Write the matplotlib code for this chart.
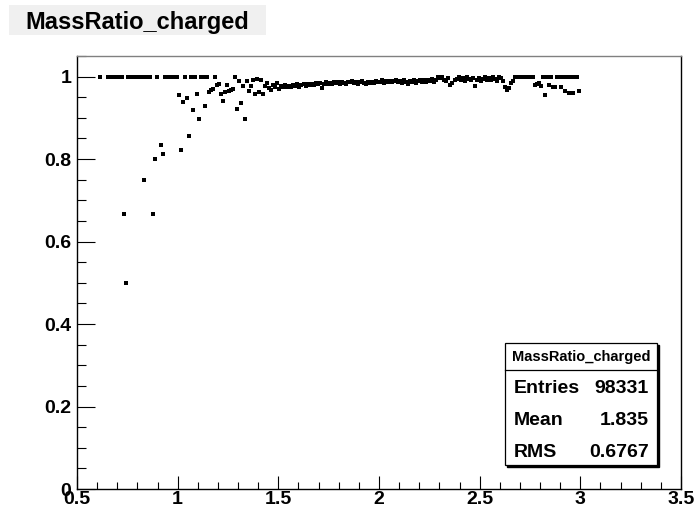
import numpy as np
import matplotlib
matplotlib.use("Agg")
import matplotlib.pyplot as plt
from matplotlib.patches import Rectangle
from matplotlib.lines import Line2D
from matplotlib.ticker import MultipleLocator, FuncFormatter

plt.rcParams['font.family'] = ['Liberation Sans', 'DejaVu Sans']
plt.rcParams['font.weight'] = 'bold'

# ---- data: profile bins of width 0.01, first bin centre 0.605 ----
bin_start = 0.605
bin_width = 0.01
nan = np.nan
ratio_low = [
    nan, 1, nan, nan, nan,                      # 0.605-0.645
    1, 1, 1, 1, 1, 1, 1, 1,                     # 0.655-0.725
    0.667, 0.5,                                 # 0.735-0.745
    1, 1, 1, 1, 1, 1, 1, 1,                     # 0.755-0.825
    0.75, 1, 1, 1, 0.667, 0.80, 1, nan,         # 0.835-0.905
    0.833, 0.812,                               # 0.915-0.925
    1, 1, 1, 1, 1, 1, 1,                        # 0.935-0.995
    0.955, 0.823, 0.938, 1, 0.947, 0.857, 1, 0.920, 1, 0.959,   # 1.005-1.095
    0.897, 1, 1, 0.929, 1, 0.963, 0.967, 0.971, 1, 0.980,       # 1.105-1.195
    0.982, 0.958, 0.940, 0.962, 0.980, 0.965, 0.968, 0.971, 1, 0.922,  # 1.205-1.295
    0.990, 0.936, 0.977, 0.897, 0.990, 0.966, 0.978, 0.991, 0.959, 0.994,  # 1.305-1.395
    0.963, 0.991, 0.958, 0.978, 0.985,          # 1.405-1.445
]
ratio_mid = [
    0.972, 0.968, 0.980, 0.975, 0.985, 0.970, 0.978, 0.974, 0.980, 0.976,  # 1.455-1.545
    0.978, 0.975, 0.980, 0.977, 0.982, 0.976, 0.980, 0.983, 0.978, 0.981,  # 1.555-1.645
    0.979, 0.983, 0.980, 0.984, 0.981, 0.985, 0.973, 0.982, 0.986, 0.983,  # 1.655-1.745
    0.985, 0.982, 0.987, 0.984, 0.986, 0.983, 0.988, 0.985, 0.982, 0.987,  # 1.755-1.845
    0.986, 0.989, 0.984, 0.987, 0.983, 0.986, 0.990, 0.985, 0.982, 0.987,  # 1.855-1.945
    0.985, 0.988, 0.984, 0.990, 0.986, 0.988, 0.991, 0.985, 0.989, 0.987,  # 1.955-2.045
    0.990, 0.986, 0.989, 0.992, 0.987, 0.990, 0.985, 0.991, 0.988, 0.983,  # 2.055-2.145
    0.989, 0.986, 0.991, 0.984, 0.990, 0.993, 0.987, 0.991, 0.988, 0.992,  # 2.155-2.245
    0.990, 0.994, 0.988, 0.992, 1.000, 0.996, 1.000, 0.993, 0.990, 0.997,  # 2.255-2.345
    0.980, 0.985, 0.992, 0.995, 1.000, 0.993, 0.996, 0.990, 0.998, 0.994,  # 2.355-2.445
    0.992, 0.996, 0.977, 0.993, 0.997, 0.990, 0.995, 1.000, 0.993, 0.996,  # 2.455-2.545
    0.992, 0.998, 0.994, 0.990, 1.000, 0.996, 0.990, 0.975, 0.968, 0.972,  # 2.555-2.645
    0.985, 0.990,                                                          # 2.655-2.665
]
ratio_high = [
    1, 1, 1, 1, 1, 1, 1, 1, 1, 1,               # 2.675-2.765
    0.980, 0.982, 0.985, 0.978,                 # 2.775-2.805
    1, 0.956, 1, 0.980, 1, 0.975, 0.975, 1, 1, 0.975,   # 2.815-2.905
    1, 0.965, 1, 0.960, 1, 0.960, 1, 1, 0.964,  # 2.915-2.995
]
ratio = np.array(ratio_low + ratio_mid + ratio_high, dtype=float)
x_centres = bin_start + bin_width * np.arange(len(ratio))

x_ticks = [0.5, 1, 1.5, 2, 2.5, 3, 3.5]
y_ticks = [0, 0.2, 0.4, 0.6, 0.8, 1.0]
hist_name = "MassRatio_charged"
stats_labels = ["Entries", "Mean", "RMS"]
stats_values = ["98331", "1.835", "0.6767"]

# ---- figure ----
W, H = 697, 516
fig = plt.figure(figsize=(W / 100, H / 100), dpi=100)

def fx(px):
    return px / W

def fy(py):
    return 1 - py / H

L, R, T, B = 77, 681, 56, 489
ax = fig.add_axes([fx(L), fy(B), (R - L) / W, (B - T) / H])
ax.plot(x_centres, ratio, linestyle='none', marker='s', markersize=2.7,
        color='black', markeredgewidth=0)
ax.set_xlim(0.5, 3.5)
ax.set_ylim(0, 1.05)

ax.set_xticks(x_ticks)
ax.set_yticks(y_ticks)
ax.xaxis.set_minor_locator(MultipleLocator(0.1))
ax.yaxis.set_minor_locator(MultipleLocator(0.05))
fmt = FuncFormatter(lambda v, p: ('%g' % v))
ax.xaxis.set_major_formatter(fmt)
ax.yaxis.set_major_formatter(fmt)

ax.tick_params(axis='x', which='major', direction='in', length=9.4, width=0.8,
               labelsize=14, pad=1.5, top=False)
ax.tick_params(axis='x', which='minor', direction='in', length=4.7, width=0.8, top=False)
ax.tick_params(axis='y', which='major', direction='in', length=13, width=0.8,
               labelsize=14, pad=4, right=False)
ax.tick_params(axis='y', which='minor', direction='in', length=6.5, width=0.8, right=False)
for lab in ax.get_xticklabels() + ax.get_yticklabels():
    lab.set_fontweight('bold')

for s in ['left', 'bottom', 'right']:
    ax.spines[s].set_color('black')
    ax.spines[s].set_linewidth(1.0)
ax.spines['top'].set_color('#808080')
ax.spines['top'].set_linewidth(1.0)

# ---- title box ----
fig.patches.append(Rectangle((fx(9), fy(35)), 257 / W, 30 / H, transform=fig.transFigure,
                             facecolor='#f0f0f0', edgecolor='none', zorder=0))
fig.text(fx(25), fy(28.5), hist_name, fontsize=17, fontweight='bold',
         ha='left', va='baseline', color='black')

# ---- stats box ----
bx0, bx1, by0, by1 = 505, 657, 343, 465
fig.patches.append(Rectangle((fx(bx0 + 2), fy(by1 + 2)), (bx1 - bx0) / W, (by1 - by0) / H,
                             transform=fig.transFigure, facecolor='black',
                             edgecolor='black', zorder=5))
fig.patches.append(Rectangle((fx(bx0), fy(by1)), (bx1 - bx0) / W, (by1 - by0) / H,
                             transform=fig.transFigure, facecolor='white',
                             edgecolor='black', linewidth=0.9, zorder=6))
fig.lines.append(Line2D([fx(bx0), fx(bx1)], [fy(369.5), fy(369.5)],
                        transform=fig.transFigure, color='black', linewidth=0.9, zorder=7))
fig.text(fx((bx0 + bx1) / 2), fy(360.5), hist_name, fontsize=10.5, fontweight='bold',
         ha='center', va='baseline', zorder=8)
baselines = [392.7, 425, 456.7]
for lab, val, yb in zip(stats_labels, stats_values, baselines):
    fig.text(fx(514), fy(yb), lab, fontsize=14, fontweight='bold',
             ha='left', va='baseline', zorder=8)
    fig.text(fx(648.5), fy(yb), val, fontsize=14, fontweight='bold',
             ha='right', va='baseline', zorder=8)

fig.savefig('out.png', dpi=100)
